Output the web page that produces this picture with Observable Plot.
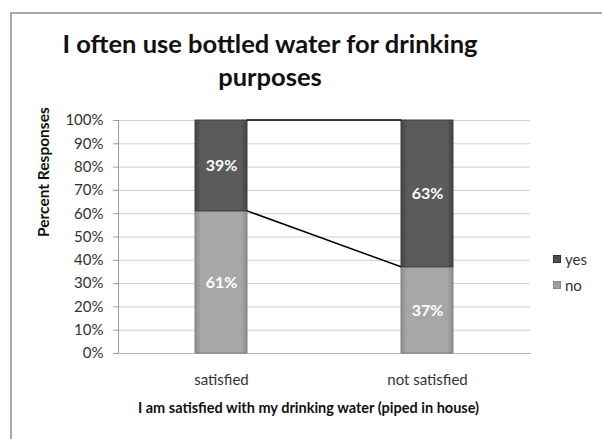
<!DOCTYPE html>
<html>
<head>
<meta charset="utf-8">
<script src="https://cdn.jsdelivr.net/npm/d3@7"></script>
<script src="https://cdn.jsdelivr.net/npm/@observablehq/plot@0.6"></script>
<style>
  html, body { margin: 0; padding: 0; background: #fff; }
  #wrap { position: relative; width: 602px; height: 439px; overflow: hidden; font-family: Lato, "Open Sans", sans-serif; }
  #border { position: absolute; left: 10px; top: 12px; width: 640px; height: 480px; border: 2px solid #a8a8a8; box-sizing: border-box; }
  #title { position: absolute; left: 0; top: 27px; width: 540px; text-align: center; font-weight: bold; font-size: 25.5px; line-height: 33px; color: #111; }
  #plot { position: absolute; left: 0; top: 0; }
  #legend { position: absolute; left: 553px; top: 246px; font-size: 15px; color: #333; }
  #legend div { height: 26px; line-height: 20px; display: flex; align-items: center; }
  #legend span.sw { display: inline-block; width: 8px; height: 8px; margin-right: 4px; box-sizing: border-box; }
</style>
</head>
<body>
<div id="wrap">
  <div id="border"></div>
  <div id="title">I often use bottled water for drinking<br>purposes</div>
  <div id="plot"></div>
  <div id="legend"></div>
</div>
<script>
const categories = ["satisfied", "not satisfied"];
const seriesNames = ["yes", "no"];
const yesValues = [39, 63];
const noValues = [61, 37];
const yTicks = [0, 10, 20, 30, 40, 50, 60, 70, 80, 90, 100];
const yLabel = "Percent Responses";
const xLabel = "I am satisfied with my drinking water (piped in house)";

const rows = categories.map((c, i) => ({category: c, no: noValues[i], yes: yesValues[i]}));
const links = [
  {x1: categories[0], x2: categories[1], y1: noValues[0], y2: noValues[1]},
  {x1: categories[0], x2: categories[1], y1: noValues[0] + yesValues[0], y2: noValues[1] + yesValues[1]}
];

function defs() {
  const ns = "http://www.w3.org/2000/svg";
  const d = document.createElementNS(ns, "defs");
  const mk = (id, edge, mid) => {
    const g = document.createElementNS(ns, "linearGradient");
    g.setAttribute("id", id);
    g.setAttribute("x1", "0"); g.setAttribute("x2", "1"); g.setAttribute("y1", "0"); g.setAttribute("y2", "0");
    [[0, edge], [0.12, mid], [0.88, mid], [1, edge]].forEach(([o, c]) => {
      const s = document.createElementNS(ns, "stop");
      s.setAttribute("offset", o); s.setAttribute("stop-color", c);
      g.appendChild(s);
    });
    d.appendChild(g);
  };
  mk("gYes", "#444444", "#5b5b5b");
  mk("gNo", "#8e8e8e", "#a7a7a7");
  return d;
}

// series lines: from the right edge of the first bar to the left edge of the second, via the plot's scales
function seriesLines(index, scales) {
  const ns = "http://www.w3.org/2000/svg";
  const g = document.createElementNS(ns, "g");
  const x = scales.x, y = scales.y;
  const bw = typeof x.bandwidth === "function" ? x.bandwidth() : 0;
  for (const l of links) {
    const line = document.createElementNS(ns, "line");
    line.setAttribute("x1", x(l.x1) + bw);
    line.setAttribute("x2", x(l.x2));
    line.setAttribute("y1", y(l.y1));
    line.setAttribute("y2", y(l.y2));
    line.setAttribute("stroke", "#000");
    line.setAttribute("stroke-width", 1.5);
    g.appendChild(line);
  }
  return g;
}

const chart = Plot.plot({
  width: 602,
  height: 439,
  marginLeft: 118,
  marginRight: 72,
  marginTop: 120,
  marginBottom: 86,
  style: {fontFamily: "Lato, 'Open Sans', sans-serif", fontSize: "15px", background: "transparent", color: "#333"},
  x: {domain: categories, paddingInner: 0.75, paddingOuter: 0.375, label: null},
  y: {domain: [0, 100], label: null},
  marks: [
    defs,
    Plot.gridY(yTicks, {stroke: "#cfcfcf", strokeOpacity: 1}),
    Plot.frame({anchor: "left", stroke: "#9a9a9a"}),
    Plot.frame({anchor: "bottom", stroke: "#b5b5b5"}),
    Plot.axisY(yTicks, {tickFormat: d => d + "%", tickSize: 5, tickPadding: 10, stroke: "#9a9a9a", fill: "#333", fontSize: 15, label: null}),
    Plot.axisX({tickSize: 0, tickPadding: 21, fill: "#333", fontSize: 15, label: null}),
    Plot.barY(rows, {x: "category", y1: 0, y2: "no", fill: "url(#gNo)", stroke: "#808080", strokeWidth: 1}),
    Plot.barY(rows, {x: "category", y1: "no", y2: d => d.no + d.yes, fill: "url(#gYes)", stroke: "#3c3c3c", strokeWidth: 1}),
    Plot.ruleY(rows, {x: "category", y: "no", stroke: "#fff", strokeWidth: 2.5, dy: 1}),
    Plot.ruleY(rows, {x: "category", y: "no", stroke: "#e2e2e2", strokeWidth: 1.2, dy: 3, inset: 3}),
    seriesLines,
    Plot.text(rows, {x: "category", y: d => d.no / 2, text: d => d.no + "%", fill: "#fff", fontWeight: "bold", fontSize: 16}),
    Plot.text(rows, {x: "category", y: d => d.no + d.yes / 2, text: d => d.yes + "%", fill: "#fff", fontWeight: "bold", fontSize: 16}),
    Plot.text([yLabel], {frameAnchor: "left", dx: -74, rotate: -90, fontWeight: "bold", fontSize: 15.5, fill: "#111"}),
    Plot.text([xLabel], {frameAnchor: "bottom", dx: -16, dy: 59, fontWeight: "bold", fontSize: 14.5, fill: "#111"})
  ]
});
document.getElementById("plot").appendChild(chart);

const legendColors = {yes: "#4f4f4f", no: "#a0a0a0"};
const lg = document.getElementById("legend");
seriesNames.forEach(n => {
  const row = document.createElement("div");
  const sw = document.createElement("span");
  sw.className = "sw";
  sw.style.background = legendColors[n];
  sw.style.border = "1px solid " + (n === "yes" ? "#333" : "#888");
  row.appendChild(sw);
  row.appendChild(document.createTextNode(n));
  lg.appendChild(row);
});
</script>
</body>
</html>
